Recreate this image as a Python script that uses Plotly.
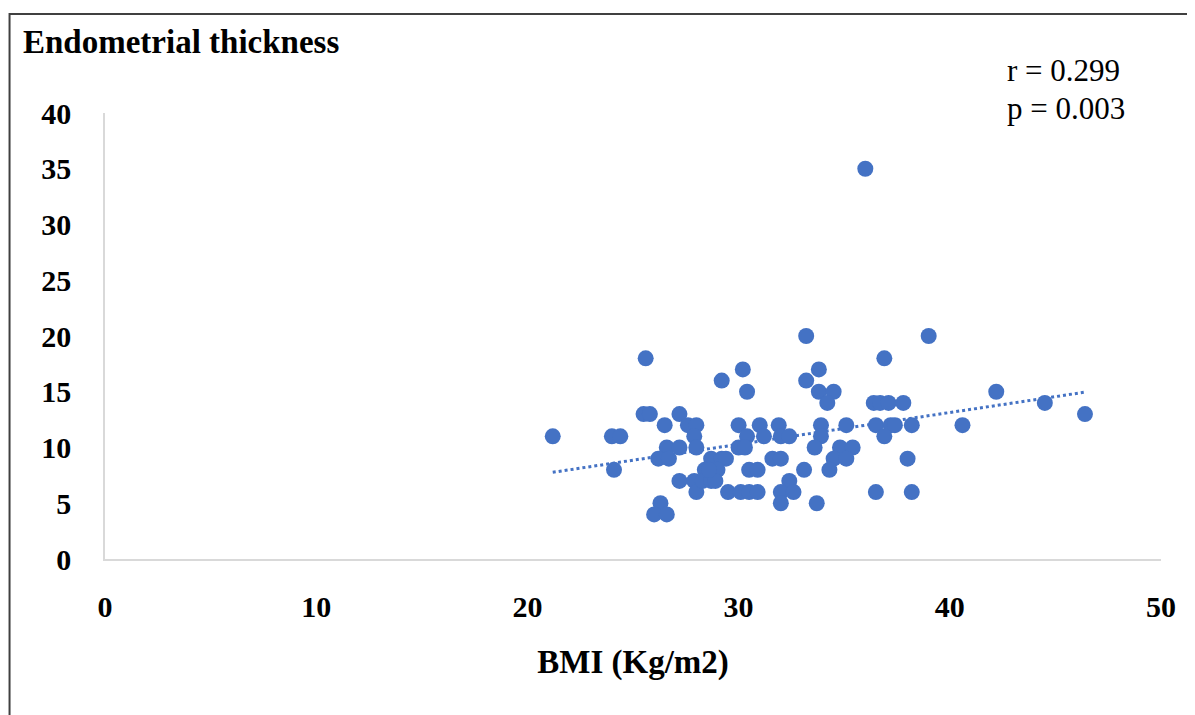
import numpy as np
import plotly.graph_objects as go

bmi = [21.2, 24.0, 24.4, 24.1, 25.6, 25.5, 25.8, 26.5, 27.2, 27.6,
       28.0, 27.9, 28.0, 26.6, 27.2, 26.2, 26.7, 27.2, 27.9, 28.0,
       26.3, 26.0, 26.6, 28.7, 29.2, 29.4, 28.4, 29.0, 28.3, 28.7,
       28.9, 29.2, 30.2, 30.4, 33.2, 33.2, 33.8, 33.8, 34.5, 34.2,
       30.0, 31.0, 31.9, 33.9, 35.1, 30.4, 31.2, 32.0, 32.4, 33.9,
       30.0, 30.3, 33.6, 34.8, 35.4, 31.6, 32.0, 34.5, 35.1, 30.5,
       30.9, 33.1, 34.3, 29.5, 30.1, 30.5, 30.9, 32.4, 32.0, 32.6,
       32.0, 33.7, 36.0, 39.0, 36.9, 42.2, 36.4, 36.7, 37.1, 37.8,
       44.5, 46.4, 36.5, 37.2, 37.4, 38.2, 40.6, 36.9, 38.0, 36.5,
       38.2, 28.6]
thickness = [11, 11, 11, 8, 18, 13, 13, 12, 13, 12,
             12, 11, 10, 10, 10, 9, 9, 7, 7, 6,
             5, 4, 4, 9, 9, 9, 8, 8, 7, 7,
             7, 16, 17, 15, 20, 16, 17, 15, 15, 14,
             12, 12, 12, 12, 12, 11, 11, 11, 11, 11,
             10, 10, 10, 10, 10, 9, 9, 9, 9, 8,
             8, 8, 8, 6, 6, 6, 6, 7, 6, 6,
             5, 5, 35, 20, 18, 15, 14, 14, 14, 14,
             14, 13, 12, 12, 12, 12, 12, 11, 9, 6,
             6, 8]

x_ticks = [0, 10, 20, 30, 40, 50]
y_ticks = [0, 5, 10, 15, 20, 25, 30, 35, 40]

BLUE = "#4472C4"
OFF = 8  # page offset of the plot div
W, H = 1195 - OFF, 715 - OFF
# plot-area edges in screenshot pixels
L, R, T, B = 104.5, 1161, 113, 559

slope, intercept = np.polyfit(bmi, thickness, 1)
tx = np.array([min(bmi), max(bmi)])
ty = slope * tx + intercept

fig = go.Figure()
fig.add_trace(go.Scatter(x=tx, y=ty, mode="lines",
                         line=dict(color=BLUE, width=3, dash="dot"),
                         hoverinfo="skip", showlegend=False))
fig.add_trace(go.Scatter(x=bmi, y=thickness, mode="markers",
                         marker=dict(color=BLUE, size=16, line=dict(width=0)),
                         showlegend=False))

def px(xp):
    return (xp - L) / (R - L)

def py(yp):
    return (B - yp) / (B - T)

fig.update_layout(
    width=W, height=H,
    margin=dict(l=L - OFF, r=W - (R - OFF), t=T - OFF, b=H - (B - OFF), pad=0),
    paper_bgcolor="white", plot_bgcolor="white",
    font=dict(family="Liberation Serif", color="black"),
    xaxis=dict(range=[0, 50], tickvals=x_ticks, showgrid=False, zeroline=False,
               showline=True, linecolor="#D9D9D9", linewidth=1.5,
               ticks="", ticklabelstandoff=20,
               tickfont=dict(size=30, family="Liberation Serif", weight="bold"),
               title=dict(text="<b>BMI (Kg/m2)</b>", font=dict(size=33), standoff=28)),
    yaxis=dict(range=[0, 40], tickvals=y_ticks, showgrid=False, zeroline=False,
               showline=True, linecolor="#D9D9D9", linewidth=1.5,
               ticks="", ticklabelstandoff=26,
               tickfont=dict(size=30, family="Liberation Serif", weight="bold")),
    shapes=[dict(type="rect", xref="paper", yref="paper",
                 x0=px(9), x1=px(1191), y0=py(14), y1=py(725),
                 line=dict(color="#404040", width=2), fillcolor="rgba(0,0,0,0)",
                 layer="below")],
    annotations=[
        dict(text="<b>Endometrial thickness</b>", xref="paper", yref="paper",
             x=px(20), y=py(42), xanchor="left", yanchor="middle",
             showarrow=False, font=dict(size=33, family="Liberation Serif")),
        dict(text="r = 0.299", xref="paper", yref="paper",
             x=px(1005), y=py(70), xanchor="left", yanchor="middle",
             showarrow=False, font=dict(size=31, family="Liberation Serif")),
        dict(text="p = 0.003", xref="paper", yref="paper",
             x=px(1005), y=py(108), xanchor="left", yanchor="middle",
             showarrow=False, font=dict(size=31, family="Liberation Serif")),
    ],
)

fig.write_html("out.html")
